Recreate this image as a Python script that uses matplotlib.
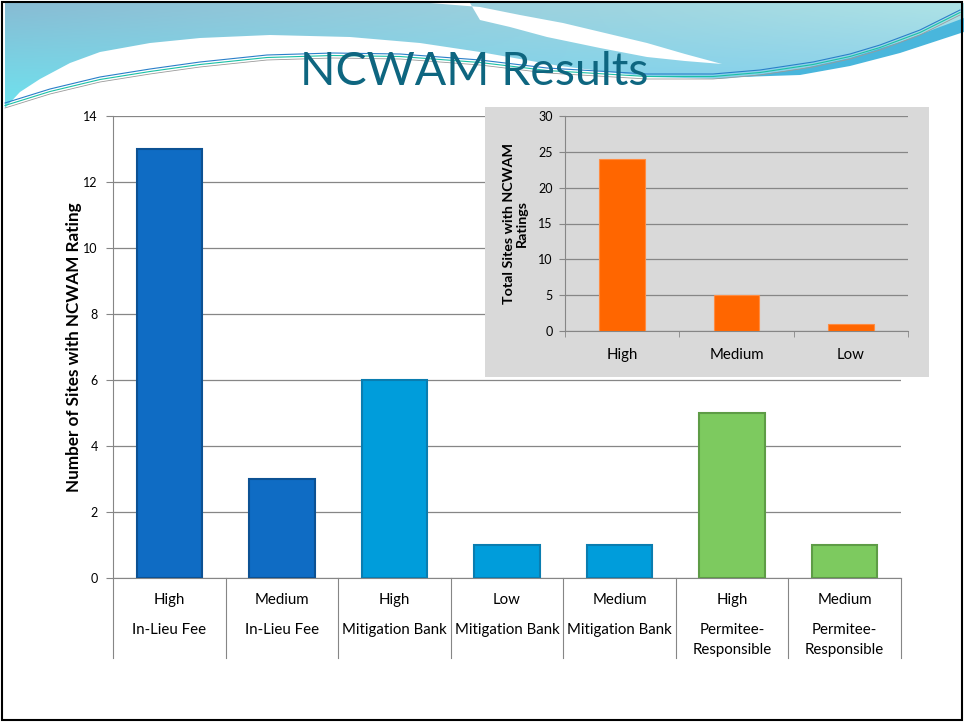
import numpy as np
import matplotlib
matplotlib.use("Agg")
from matplotlib import pyplot as plt
from matplotlib.patches import Polygon, Rectangle
from matplotlib.colors import to_rgb

plt.rcParams['font.family'] = ['Lato', 'DejaVu Sans']

# main chart data
ratings = ["High", "Medium", "High", "Low", "Medium", "High", "Medium"]
site_types = ["In-Lieu Fee", "In-Lieu Fee", "Mitigation Bank", "Mitigation Bank",
              "Mitigation Bank", "Permitee-\nResponsible", "Permitee-\nResponsible"]
site_counts = [13, 3, 6, 1, 1, 5, 1]

# inset data
total_labels = ["High", "Medium", "Low"]
total_counts = [24, 5, 1]

face = ["#0F6CC4", "#0F6CC4", "#009DDB", "#009DDB", "#009DDB", "#7DCA5F", "#7DCA5F"]
edge = ["#0C5193", "#0C5193", "#0A7DB0", "#0A7DB0", "#0A7DB0", "#5E9C46", "#5E9C46"]
grid_col = "#868686"

fig = plt.figure(figsize=(9.64, 7.24), dpi=100)

# ---- slide background (pixel coords, y down) ----
bg = fig.add_axes([0, 0, 1, 1], zorder=0)
bg.set_xlim(0, 964)
bg.set_ylim(724, 0)
bg.axis("off")

wave_x = [5, 20, 40, 70, 100, 150, 200, 270, 350, 420, 480, 560, 650, 720, 780, 840, 900, 964]
wave_y = [108, 92, 79, 63, 52, 43, 38, 35, 37, 43, 52, 66, 77, 79, 74, 63, 47, 25]
band = Polygon(list(zip([5, 964] + wave_x[::-1], [3, 3] + wave_y[::-1])),
               closed=True, facecolor="none", edgecolor="none")
bg.add_patch(band)
h, w = 60, 200
tl, bl, tr, br = [np.array(to_rgb(c)) for c in ("#88BCD4", "#6EE3EF", "#AEE3E6", "#7EC8EE")]
u = np.linspace(0, 1, w)[None, :, None]
v = np.linspace(0, 1, h)[:, None, None]
grad = (1 - u) * (1 - v) * tl + (1 - u) * v * bl + u * (1 - v) * tr + u * v * br
im = bg.imshow(grad, extent=(5, 964, 110, 3), origin="upper", aspect="auto")
im.set_clip_path(band)

# white diagonal stripe
bg.add_patch(Polygon([(430, 3), (480, 7), (520, 15), (563, 23), (605, 33), (647, 43),
                      (685, 54), (722, 64), (685, 61), (647, 57), (600, 48),
                      (547, 37), (510, 27), (480, 20), (470, 3)],
                     closed=True, facecolor="white", edgecolor="none"))
# darker band on right
bg.add_patch(Polygon([(740, 77), (800, 69), (850, 58), (900, 42), (964, 18), (964, 32),
                      (900, 53), (850, 66), (800, 75)],
                     closed=True, facecolor="#49B6DC", edgecolor="none"))
# thin lines along the wave
lx = [5, 50, 100, 150, 200, 267, 333, 400, 480, 547, 647, 713, 760, 813, 850, 880, 920, 960]
ly = [103, 89, 77, 69, 62, 55, 53, 54, 60, 68, 74, 74, 70, 62, 54, 45, 30, 10]
bg.plot(lx, ly, color="#2A7FC9", lw=0.8)
bg.plot(lx, [y + 2.5 for y in ly], color="#1BC1A5", lw=0.8)
bg.plot(lx, [y + 5 for y in ly], color="#9A9A9A", lw=0.6)

bg.add_patch(Rectangle((2, 2), 960, 718, facecolor="none", edgecolor="black", lw=1.5))

bg.text(474, 85, "NCWAM Results", fontsize=33.5, color="#0E6680",
        ha="center", va="baseline")

# ---- main chart ----
ax = fig.add_axes([113 / 964, 146 / 724, 788 / 964, 462 / 724], zorder=1)
ax.patch.set_alpha(0)
x = np.arange(len(site_counts))
ax.bar(x, site_counts, width=0.58, color=face, edgecolor=edge, linewidth=1.5, zorder=3)
ax.set_xlim(-0.5, len(site_counts) - 0.5)
ax.set_ylim(0, 14)
ax.set_yticks(range(0, 15, 2))
ax.yaxis.grid(True, color=grid_col, lw=0.9)
ax.set_axisbelow(True)
for s in ["top", "right"]:
    ax.spines[s].set_visible(False)
ax.spines["left"].set_color(grid_col)
ax.spines["bottom"].set_color(grid_col)
ax.tick_params(axis="y", length=5, color=grid_col, labelsize=9, pad=6)
ax.set_xticks([])
ax.set_ylabel("Number of Sites with NCWAM Rating", fontsize=12.3,
              fontweight="bold", labelpad=1)

xt = ax.get_xaxis_transform()
for k in range(len(site_counts) + 1):
    ax.plot([k - 0.5, k - 0.5], [0, -80 / 462], transform=xt, clip_on=False,
            color=grid_col, lw=0.8)
for i, (r, t) in enumerate(zip(ratings, site_types)):
    ax.annotate(r, xy=(i, 0), xycoords=xt, xytext=(0, -22 * 0.72),
                textcoords="offset points", ha="center", va="center", fontsize=10.8)
    for j, line in enumerate(t.split("\n")):
        ax.annotate(line, xy=(i, 0), xycoords=xt, xytext=(0, -(52 + 20 * j) * 0.72),
                    textcoords="offset points", ha="center", va="center", fontsize=10.8)

# ---- inset chart ----
fig.add_artist(Rectangle((485 / 964, 347 / 724), 444 / 964, 270 / 724,
                         transform=fig.transFigure, facecolor="#D9D9D9",
                         edgecolor="none", zorder=2))
ins = fig.add_axes([565 / 964, 393 / 724, 343 / 964, 215 / 724], zorder=3)
ins.patch.set_alpha(0)
xi = np.arange(len(total_counts))
ins.bar(xi, total_counts, width=0.4, color="#FF6600", edgecolor="#FF8C42",
        linewidth=0.8, zorder=3)
ins.set_xlim(-0.5, len(total_counts) - 0.5)
ins.set_ylim(0, 30)
ins.set_yticks(range(0, 31, 5))
ins.yaxis.grid(True, color=grid_col, lw=0.9)
ins.set_axisbelow(True)
for s in ["top", "right"]:
    ins.spines[s].set_visible(False)
ins.spines["left"].set_color(grid_col)
ins.spines["bottom"].set_color(grid_col)
ins.set_xticks(xi)
ins.set_xticklabels(total_labels, fontsize=10.8)
ins.set_xticks(np.arange(len(total_counts) + 1) - 0.5, minor=True)
ins.tick_params(axis="x", which="major", length=0, pad=12)
ins.tick_params(axis="x", which="minor", length=4, color=grid_col)
ins.tick_params(axis="y", length=4, color=grid_col, labelsize=9, pad=5)
ins.set_ylabel("Total Sites with NCWAM\nRatings", fontsize=10.3,
               fontweight="bold", labelpad=7, linespacing=1.1)

fig.savefig("out.png", dpi=100)
